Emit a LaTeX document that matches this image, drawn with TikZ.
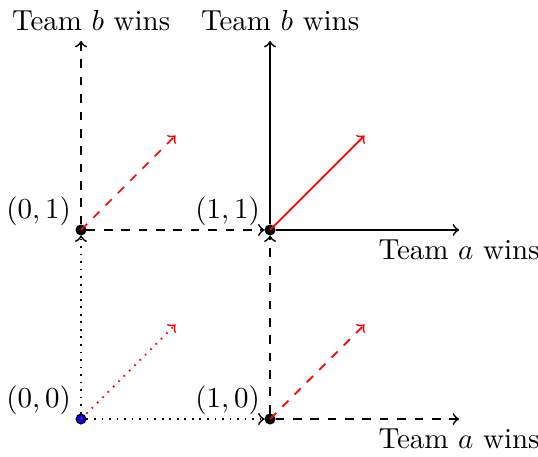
\documentclass[tikz,border=0pt]{standalone}
\usetikzlibrary{positioning}

\begin{document}
\begin{tikzpicture}[
    x=2.294cm, y=2.294cm,
    pt/.style={circle, draw=black, fill=#1, inner sep=1.2pt},
    pt/.default=black,
    move/.style={->, semithick},
    win/.style={->, semithick, red}
  ]
    \useasboundingbox (-0.983cm,-0.449cm) rectangle (5.546cm,5.085cm);

    % Points
    \node[pt=blue] (p00) at (0, 0) {};
    \node[pt] (p10) at (1, 0) {};
    \node[pt] (p01) at (0, 1) {};
    \node[pt] (p11) at (1, 1) {};

    \node[above left=-2pt and 0pt of p00.center] (l00) {$(0,0)$};
    \node[above left=-2pt and 0pt of p10.center] (l10) {$(1,0)$};
    \node[above left=-2pt and 0pt of p01.center] (l01) {$(0,1)$};
    \node[above left=-2pt and 0pt of p11.center] (l11) {$(1,1)$};

    % Free ends
    \coordinate (a10) at (2, 0);
    \coordinate (a11) at (2, 1);
    \coordinate (b01) at (0, 2);
    \coordinate (b11) at (1, 2);
    \coordinate (d00) at (0.5, 0.5);
    \coordinate (d10) at (1.5, 0.5);
    \coordinate (d01) at (0.5, 1.5);
    \coordinate (d11) at (1.5, 1.5);

    \node[below=0pt of a10] (ta10) {Team $a$ wins};
    \node[below=0pt of a11] (ta11) {Team $a$ wins};
    \node[above=0pt of b01, xshift=3.5pt] (tb01) {Team $b$ wins};
    \node[above=0pt of b11, xshift=3.5pt] (tb11) {Team $b$ wins};

    % Connections
    \draw[move, dotted] (p00) -- (p10);
    \draw[move, dotted] (p00) -- (p01);
    \draw[win, dotted] (p00.center) -- (d00);
    \draw[move, dashed] (p10) -- (a10);
    \draw[move, dashed] (p10) -- (p11);
    \draw[win, dashed] (p10.center) -- (d10);
    \draw[move, dashed] (p01) -- (p11);
    \draw[move, dashed] (p01) -- (b01);
    \draw[win, dashed] (p01.center) -- (d01);
    \draw[move] (p11) -- (a11);
    \draw[move] (p11) -- (b11);
    \draw[win] (p11.center) -- (d11);
  \end{tikzpicture}
\end{document}
